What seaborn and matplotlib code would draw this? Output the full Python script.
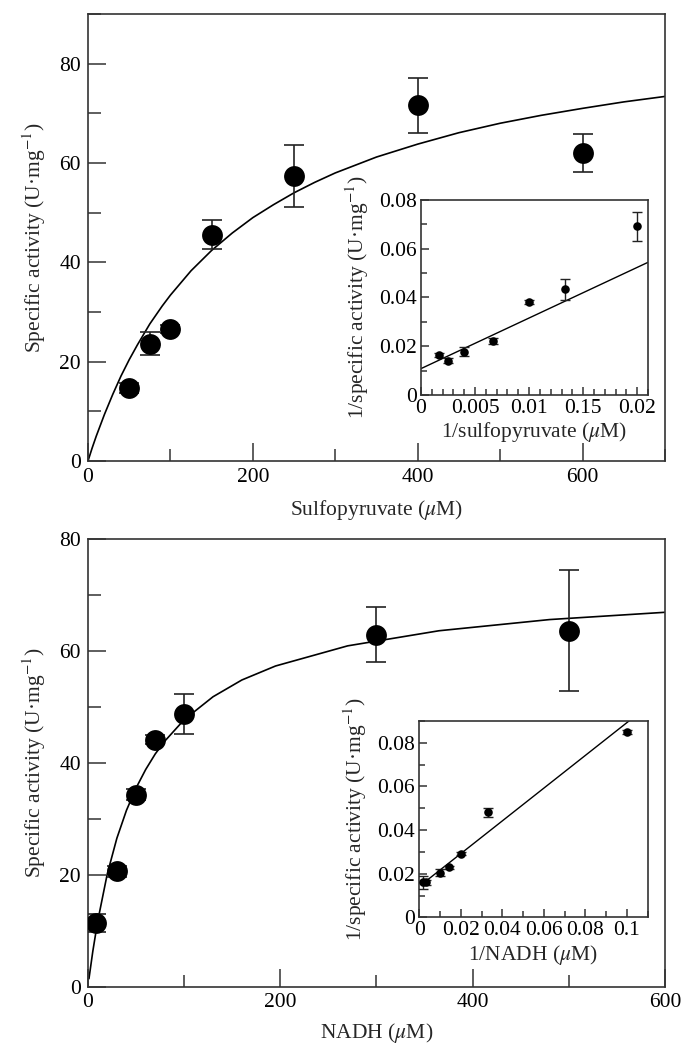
import numpy as np
import pandas as pd
import seaborn as sns
import matplotlib.pyplot as plt
from matplotlib.ticker import FixedLocator, FixedFormatter, MultipleLocator

## Sulfopyruvate panel (main)
sp_conc = [50, 75, 100, 150, 250, 400, 600]
sp_act = [14.7, 23.6, 26.5, 45.6, 57.4, 71.6, 62.0]
sp_err = [1.0, 2.3, 0.8, 3.0, 6.2, 5.5, 3.8]
sp_fit_x = [0, 5, 10, 20, 30, 40, 50, 60, 75, 90, 100, 125, 150, 175, 200, 225, 250,
            275, 300, 350, 400, 450, 500, 550, 600, 650, 700]
sp_fit_y = [0, 2.6, 5.0, 9.4, 13.4, 17.1, 20.4, 23.4, 27.6, 31.2, 33.4, 38.3, 42.4, 45.9, 49.0,
            51.6, 54.0, 56.1, 58.0, 61.2, 63.8, 66.1, 68.0, 69.6, 71.0, 72.3, 73.4]

## Sulfopyruvate inset (double reciprocal)
sp_inv_x = [0.00167, 0.0025, 0.004, 0.00667, 0.01, 0.01333, 0.02]
sp_inv_y = [0.0164, 0.0141, 0.0178, 0.0223, 0.0380, 0.0433, 0.0691]
sp_inv_err = [0.0010, 0.0010, 0.0018, 0.0012, 0.0008, 0.0044, 0.0058]
sp_line_x = [0, 0.021]
sp_line_y = [0.0108, 0.0544]

## NADH panel (main)
nadh_conc = [8, 30, 50, 70, 100, 300, 500]
nadh_act = [11.4, 20.6, 34.3, 44.1, 48.7, 62.9, 63.6]
nadh_err = [1.6, 1.0, 1.0, 0.8, 3.6, 4.9, 10.8]
nadh_fit_x = [1, 5, 10, 20, 30, 40, 50, 60, 70, 80, 100, 130, 160, 195, 270, 365, 480, 600]
nadh_fit_y = [1.4, 6.3, 11.6, 20.1, 26.5, 31.5, 35.5, 38.8, 41.6, 43.9, 47.7, 51.8, 54.8, 57.3, 60.9, 63.6, 65.6, 66.9]

## NADH inset
nadh_inv_x = [0.002, 0.00333, 0.01, 0.0143, 0.02, 0.0333, 0.1]
nadh_inv_y = [0.0160, 0.0160, 0.0205, 0.0229, 0.0292, 0.0481, 0.0850]
nadh_inv_err = [0.0028, 0.0012, 0.0015, 0.0008, 0.0006, 0.0022, 0.0008]
nadh_line_x = [0.002, 0.1015]
nadh_line_y = [0.0157, 0.0904]

## tick labels
main_y_ticks = [0, 20, 40, 60, 80]
main_x_ticks = [0, 200, 400, 600]
sp_inset_xticks = [0, 0.005, 0.01, 0.015, 0.02]
sp_inset_xlabels = ['0', '0.005', '0.01', '0.15', '0.02']
sp_inset_yticks = [0, 0.02, 0.04, 0.06, 0.08]
sp_inset_ylabels = ['0', '0.02', '0.04', '0.06', '0.08']
nadh_inset_xticks = [0, 0.02, 0.04, 0.06, 0.08, 0.1]
nadh_inset_xlabels = ['0', '0.02', '0.04', '0.06', '0.08', '0.1']
nadh_inset_yticks = [0, 0.02, 0.04, 0.06, 0.08]
nadh_inset_ylabels = ['0', '0.02', '0.04', '0.06', '0.08']

sns.set_theme(style='ticks')
plt.rcParams['font.family'] = ['Liberation Serif', 'DejaVu Serif']
plt.rcParams['mathtext.fontset'] = 'stix'

FS = 15.5
spine_col = '#333333'
ylab = r'Specific activity (U·mg$^{-1}$)'
inv_ylab = r'1/specific activity (U·mg$^{-1}$)'


def style_axes(ax, major, minor, pad):
    for s in ax.spines.values():
        s.set_color(spine_col)
        s.set_linewidth(1.2)
    ax.tick_params(which='both', direction='in', top=False, right=False,
                   colors=spine_col, labelcolor='black', width=1.1, labelsize=FS, pad=pad)
    ax.tick_params(which='major', length=major)
    ax.tick_params(which='minor', length=minor)


def draw_main(ax, x, y, err, fx, fy):
    sns.lineplot(x=fx, y=fy, ax=ax, color='black', lw=1.2, estimator=None, sort=False, zorder=2)
    ax.errorbar(x, y, yerr=err, fmt='none', ecolor='#222222', elinewidth=1.2,
                capsize=7.5, capthick=1.2, zorder=3)
    sns.scatterplot(x=x, y=y, ax=ax, s=225, color='black', edgecolor='black', linewidth=0, zorder=4)


def draw_inset(ax, x, y, err, lx, ly):
    sns.lineplot(x=lx, y=ly, ax=ax, color='black', lw=1.0, estimator=None, sort=False, zorder=2)
    ax.errorbar(x, y, yerr=err, fmt='none', ecolor='#222222', elinewidth=1.0,
                capsize=3.4, capthick=1.0, zorder=3)
    sns.scatterplot(x=x, y=y, ax=ax, s=38, color='black', edgecolor='black', linewidth=0, zorder=4)


fig = plt.figure(figsize=(6.94, 10.60), dpi=100)

## Top: sulfopyruvate
ax1 = fig.add_axes([0.1268, 0.5651, 0.8314, 0.4217])
draw_main(ax1, sp_conc, sp_act, sp_err, sp_fit_x, sp_fit_y)
ax1.set_xlim(0, 700)
ax1.set_ylim(0, 90)
ax1.xaxis.set_major_locator(FixedLocator(main_x_ticks))
ax1.xaxis.set_minor_locator(MultipleLocator(100))
ax1.yaxis.set_major_locator(FixedLocator(main_y_ticks))
ax1.yaxis.set_minor_locator(MultipleLocator(10))
style_axes(ax1, 13, 9, 5)
ax1.set_xlabel(r'Sulfopyruvate ($\mu$M)', fontsize=FS, labelpad=8)
ax1.set_ylabel(ylab, fontsize=FS, labelpad=8)

ins1 = fig.add_axes([0.6066, 0.6274, 0.3271, 0.1840])
draw_inset(ins1, sp_inv_x, sp_inv_y, sp_inv_err, sp_line_x, sp_line_y)
ins1.set_xlim(0, 0.021)
ins1.set_ylim(0, 0.08)
ins1.xaxis.set_major_locator(FixedLocator(sp_inset_xticks))
ins1.xaxis.set_major_formatter(FixedFormatter(sp_inset_xlabels))
ins1.xaxis.set_minor_locator(MultipleLocator(0.001))
ins1.yaxis.set_major_locator(FixedLocator(sp_inset_yticks))
ins1.yaxis.set_major_formatter(FixedFormatter(sp_inset_ylabels))
ins1.yaxis.set_minor_locator(MultipleLocator(0.01))
style_axes(ins1, 6, 4, 3)
ins1.set_xlabel(r'1/sulfopyruvate ($\mu$M)', fontsize=FS, labelpad=1)
ins1.set_ylabel(inv_ylab, fontsize=FS, labelpad=6)

## Bottom: NADH
ax2 = fig.add_axes([0.1268, 0.0693, 0.8314, 0.4222])
draw_main(ax2, nadh_conc, nadh_act, nadh_err, nadh_fit_x, nadh_fit_y)
ax2.set_xlim(0, 600)
ax2.set_ylim(0, 80)
ax2.xaxis.set_major_locator(FixedLocator(main_x_ticks))
ax2.xaxis.set_minor_locator(MultipleLocator(100))
ax2.yaxis.set_major_locator(FixedLocator(main_y_ticks))
ax2.yaxis.set_minor_locator(MultipleLocator(10))
style_axes(ax2, 13, 9, 5)
ax2.set_xlabel(r'NADH ($\mu$M)', fontsize=FS, labelpad=6)
ax2.set_ylabel(ylab, fontsize=FS, labelpad=8)

ins2 = fig.add_axes([0.6042, 0.1346, 0.3291, 0.1852])
draw_inset(ins2, nadh_inv_x, nadh_inv_y, nadh_inv_err, nadh_line_x, nadh_line_y)
ins2.set_xlim(0, 0.11)
ins2.set_ylim(0, 0.09)
ins2.xaxis.set_major_locator(FixedLocator(nadh_inset_xticks))
ins2.xaxis.set_major_formatter(FixedFormatter(nadh_inset_xlabels))
ins2.xaxis.set_minor_locator(MultipleLocator(0.01))
ins2.yaxis.set_major_locator(FixedLocator(nadh_inset_yticks))
ins2.yaxis.set_major_formatter(FixedFormatter(nadh_inset_ylabels))
ins2.yaxis.set_minor_locator(MultipleLocator(0.01))
style_axes(ins2, 6, 4, 3)
ins2.set_xlabel(r'1/NADH ($\mu$M)', fontsize=FS, labelpad=2)
ins2.set_ylabel(inv_ylab, fontsize=FS, labelpad=6)

fig.savefig('out.png', dpi=100)
